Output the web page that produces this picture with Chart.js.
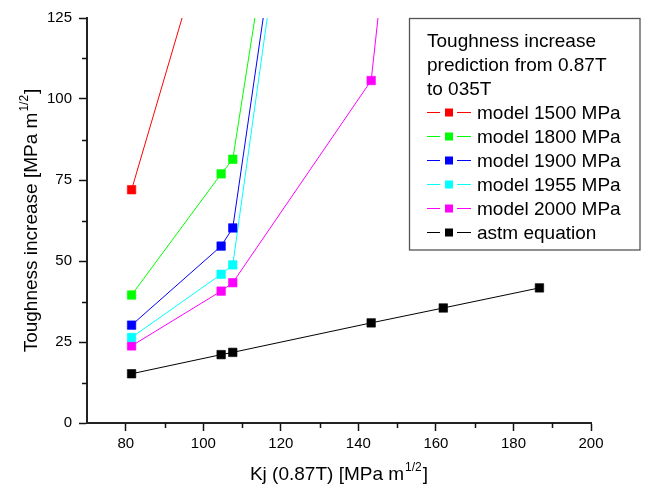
<!DOCTYPE html>
<html lang="en">
<head>
<meta charset="UTF-8">
<title>Toughness increase</title>
<script src="https://cdn.jsdelivr.net/npm/chart.js@4.4.0/dist/chart.umd.min.js"></script>
<style>
  body { margin: 0; background: #fff; }
  canvas { display: block; }
</style>
</head>
<body>
<canvas id="toughness" width="649" height="485"></canvas>
<script>
// Kj (0.87T) values where each curve was evaluated
var kjModel = [81.5, 104.6, 107.6, 143.3];
var kjModel2000 = [81.5, 104.6, 107.6, 143.3, 161.9];
var kjAstm = [81.5, 104.6, 107.6, 143.3, 161.9, 186.7];

// toughness increase [MPa m^1/2]
var model1500 = [72.0, 166.0];
var model1800 = [39.5, 76.9, 81.4, 354.0];
var model1900 = [30.2, 54.6, 60.2, 355.0];
var model1955 = [26.4, 45.9, 48.8, 355.0];
var model2000 = [23.8, 40.7, 43.3, 105.7, 310.0];
var astm = [15.2, 21.1, 21.8, 30.9, 35.5, 41.7];

var xTicks = [80, 100, 120, 140, 160, 180, 200];
var xMinor = [90, 110, 130, 150, 170, 190];
var yTicks = [0, 25, 50, 75, 100, 125];
var yMinor = [12.5, 37.5, 62.5, 87.5, 112.5];

var legendTitle = ['Toughness increase', 'prediction from 0.87T', 'to 035T'];

var FONT = '"Liberation Sans", Arial, sans-serif';

function pts(xs, ys) {
  return ys.map(function(y, i) { return {x: xs[i], y: y}; });
}

function series(label, color, xs, ys) {
  return {
    label: label,
    data: pts(xs, ys),
    borderColor: color,
    backgroundColor: color,
    borderWidth: 1,
    pointStyle: 'rect',
    pointRadius: 6,
    pointHoverRadius: 6,
    pointBorderWidth: 0.6,
    pointBorderColor: color,
    tension: 0
  };
}

// text with a "1/2" superscript, returns width when measure only
function supText(ctx, x, y, before, sup, after, size, draw) {
  var supSize = Math.round(size * 0.63);
  ctx.font = size + 'px ' + FONT;
  var w1 = ctx.measureText(before).width;
  var w3 = ctx.measureText(after).width;
  ctx.font = supSize + 'px ' + FONT;
  var w2 = ctx.measureText(sup).width;
  if (draw) {
    ctx.font = size + 'px ' + FONT;
    ctx.fillText(before, x, y);
    ctx.font = supSize + 'px ' + FONT;
    ctx.fillText(sup, x + w1 + 1, y - size * 0.47);
    ctx.font = size + 'px ' + FONT;
    ctx.fillText(after, x + w1 + w2 + 2, y);
  }
  return w1 + w2 + w3 + 2;
}

var extras = {
  id: 'extras',
  afterDraw: function(chart) {
    var ctx = chart.ctx;
    var xs = chart.scales.x, ys = chart.scales.y;
    var area = chart.chartArea;
    ctx.save();

    // minor ticks
    ctx.strokeStyle = '#111';
    ctx.lineWidth = 1.5;
    ctx.beginPath();
    xMinor.forEach(function(v) {
      var px = Math.round(xs.getPixelForValue(v)) + 0.5;
      ctx.moveTo(px, area.bottom);
      ctx.lineTo(px, area.bottom + 5);
    });
    yMinor.forEach(function(v) {
      var py = Math.round(ys.getPixelForValue(v)) + 0.5;
      ctx.moveTo(area.left, py);
      ctx.lineTo(area.left - 5, py);
    });
    ctx.stroke();

    // axis titles
    ctx.fillStyle = '#000';
    ctx.textBaseline = 'alphabetic';
    ctx.textAlign = 'left';
    var size = 19;
    var w = supText(ctx, 0, 0, 'Kj (0.87T) [MPa m', '1/2', ']', size, false);
    supText(ctx, (area.left + area.right) / 2 - w / 2, 480, 'Kj (0.87T) [MPa m', '1/2', ']', size, true);

    ctx.save();
    ctx.translate(37, (area.top + area.bottom) / 2);
    ctx.rotate(-Math.PI / 2);
    w = supText(ctx, 0, 0, 'Toughness increase [MPa m', '1/2', ']', size, false);
    supText(ctx, -w / 2, 0, 'Toughness increase [MPa m', '1/2', ']', size, true);
    ctx.restore();

    // legend box
    var bx = 409.5, by = 18.5, bw = 230.5, bh = 231.5;
    ctx.fillStyle = '#fff';
    ctx.fillRect(bx, by, bw, bh);
    ctx.strokeStyle = '#555';
    ctx.lineWidth = 1.3;
    ctx.strokeRect(bx, by, bw, bh);

    ctx.fillStyle = '#000';
    ctx.font = '19px ' + FONT;
    var base = 47, step = 24;
    legendTitle.forEach(function(t, i) {
      ctx.fillText(t, 427, base + step * i);
    });
    chart.data.datasets.forEach(function(ds, i) {
      var bl = base + step * (legendTitle.length + i);
      var cy = Math.round(bl - 7) + 0.5;
      ctx.strokeStyle = ds.borderColor;
      ctx.lineWidth = 1;
      ctx.beginPath();
      ctx.moveTo(427, cy); ctx.lineTo(440, cy);
      ctx.moveTo(457, cy); ctx.lineTo(471, cy);
      ctx.stroke();
      ctx.fillStyle = ds.backgroundColor;
      ctx.fillRect(445, cy - 4, 8, 8);
      ctx.fillStyle = '#000';
      ctx.fillText(ds.label, 477, bl);
    });

    ctx.restore();
  }
};

new Chart(document.getElementById('toughness').getContext('2d'), {
  type: 'line',
  data: {
    datasets: [
      series('model 1500 MPa', '#ff0000', kjModel, model1500),
      series('model 1800 MPa', '#00ff00', kjModel, model1800),
      series('model 1900 MPa', '#0000ff', kjModel, model1900),
      series('model 1955 MPa', '#00ffff', kjModel, model1955),
      series('model 2000 MPa', '#ff00ff', kjModel2000, model2000),
      series('astm equation', '#000000', kjAstm, astm)
    ]
  },
  options: {
    responsive: false,
    animation: false,
    events: [],
    layout: { padding: { left: 0, top: 18, right: 58, bottom: 0 } },
    plugins: {
      legend: { display: false },
      tooltip: { enabled: false }
    },
    scales: {
      x: {
        type: 'linear',
        min: 70,
        max: 200,
        afterBuildTicks: function(s) { s.ticks = xTicks.map(function(v) { return {value: v}; }); },
        afterFit: function(s) { s.height = 62; },
        grid: { drawOnChartArea: false, drawTicks: true, tickLength: 8, tickColor: '#111', tickWidth: 1.5 },
        border: { display: true, color: '#222', width: 2 },
        ticks: { color: '#000', padding: 4, maxRotation: 0, font: { family: FONT, size: 15 } }
      },
      y: {
        type: 'linear',
        min: 0,
        max: 125,
        afterBuildTicks: function(s) { s.ticks = yTicks.map(function(v) { return {value: v}; }); },
        afterFit: function(s) { s.width = 87; },
        grid: { drawOnChartArea: false, drawTicks: true, tickLength: 8, tickColor: '#111', tickWidth: 1.5 },
        border: { display: true, color: '#222', width: 2 },
        ticks: { color: '#000', padding: 7, font: { family: FONT, size: 15 } }
      }
    }
  },
  plugins: [extras]
});
</script>
</body>
</html>
